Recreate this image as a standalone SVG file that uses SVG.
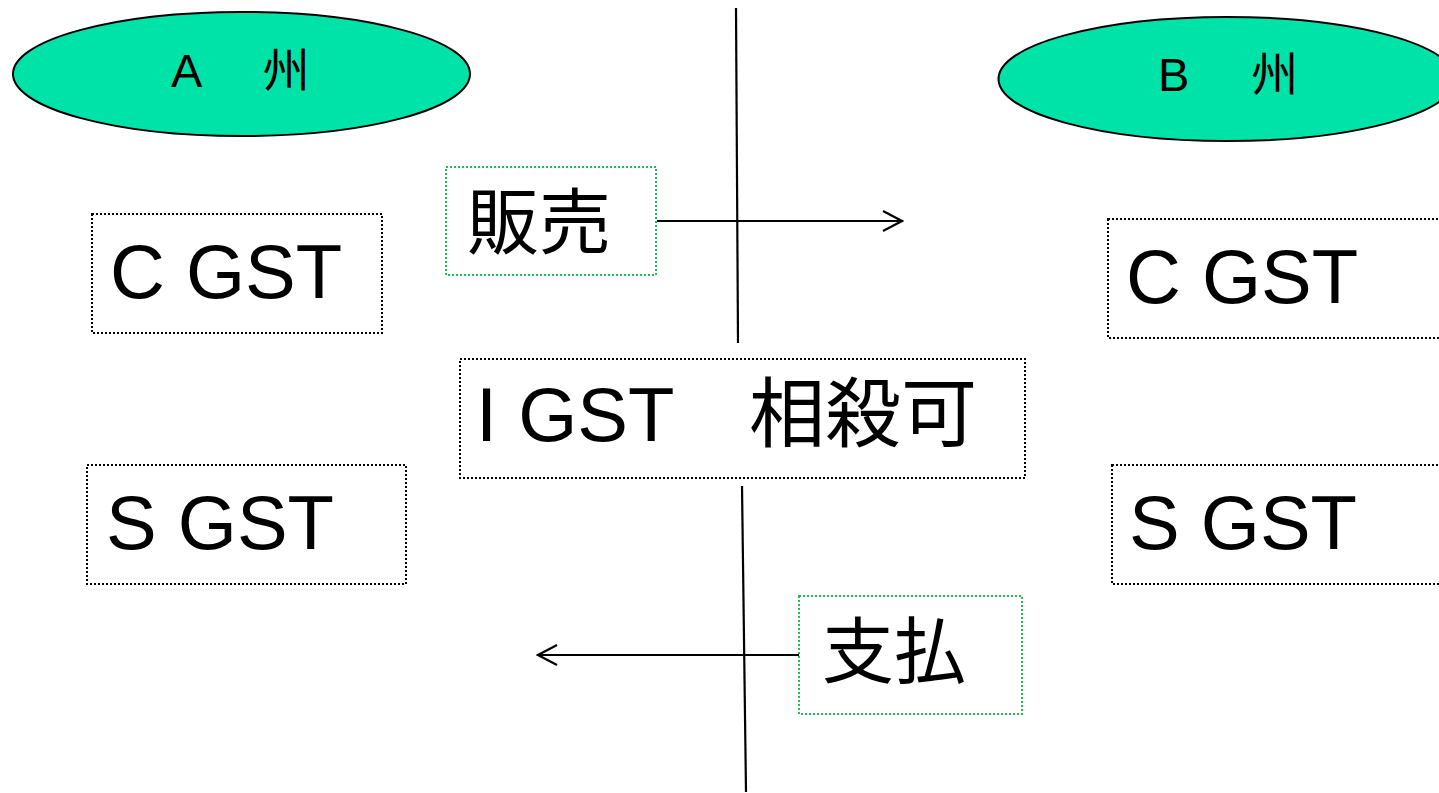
<svg xmlns="http://www.w3.org/2000/svg" width="1439" height="793" viewBox="0 0 1439 793">
<defs>
<style>
.t{font-family:"Liberation Sans","Noto Sans CJK JP",sans-serif;fill:#000}
.big{font-size:76px}
.cjk{font-size:72px}
.st{font-size:47px}
.state{fill:#00E3A8;stroke:#000;stroke-width:2}
.box{fill:#fff;stroke:#000;stroke-width:2;stroke-dasharray:2 2}
.gbox{fill:#fff;stroke:#22bb55;stroke-width:2;stroke-dasharray:2 2}
.ln{stroke:#000;stroke-width:2.2;fill:none}
</style>
<marker id="arr" viewBox="0 0 22 22" markerWidth="22" markerHeight="22" refX="20" refY="11" orient="auto" markerUnits="userSpaceOnUse">
<path d="M1,1 L20,11 L1,21" fill="none" stroke="#000" stroke-width="2.2"/>
</marker>
</defs>
<rect width="1439" height="793" fill="#fff"/>
<g id="connectors">
<line class="ln" x1="736" y1="8" x2="738" y2="343"/>
<line class="ln" x1="742" y1="486" x2="746" y2="792"/>
<line class="ln" x1="657" y1="221" x2="902" y2="221" marker-end="url(#arr)"/>
<line class="ln" x1="799" y1="655" x2="538" y2="655" marker-end="url(#arr)"/>
</g>
<g id="stateA">
<ellipse class="state" cx="241.5" cy="74" rx="228.5" ry="62"/>
<text class="t st" x="171" y="87">A<tspan dx="16">　州</tspan></text>
</g>
<g id="stateB">
<ellipse class="state" cx="1227" cy="79" rx="228.5" ry="62"/>
<text class="t st" x="1158" y="91">B<tspan dx="15">　州</tspan></text>
</g>
<g id="sale">
<rect class="gbox" x="446" y="167" width="210" height="108"/>
<text class="t cjk" x="467" y="248">販売</text>
</g>
<g id="payment">
<rect class="gbox" x="799" y="596" width="223" height="118"/>
<text class="t cjk" x="822" y="677">支払</text>
</g>
<g id="cgstA">
<rect class="box" x="92" y="214" width="290" height="119"/>
<text class="t big" x="110" y="298">C GST</text>
</g>
<g id="sgstA">
<rect class="box" x="87" y="465" width="319" height="119"/>
<text class="t big" x="106" y="549">S GST</text>
</g>
<g id="cgstB">
<rect class="box" x="1108" y="219" width="340" height="119"/>
<text class="t big" x="1126" y="303">C GST</text>
</g>
<g id="sgstB">
<rect class="box" x="1112" y="465" width="340" height="119"/>
<text class="t big" x="1129" y="549">S GST</text>
</g>
<g id="igst">
<rect class="box" x="460" y="359" width="565" height="119"/>
<text class="t big" x="476" y="441">I GST　相殺可</text>
</g>
</svg>
